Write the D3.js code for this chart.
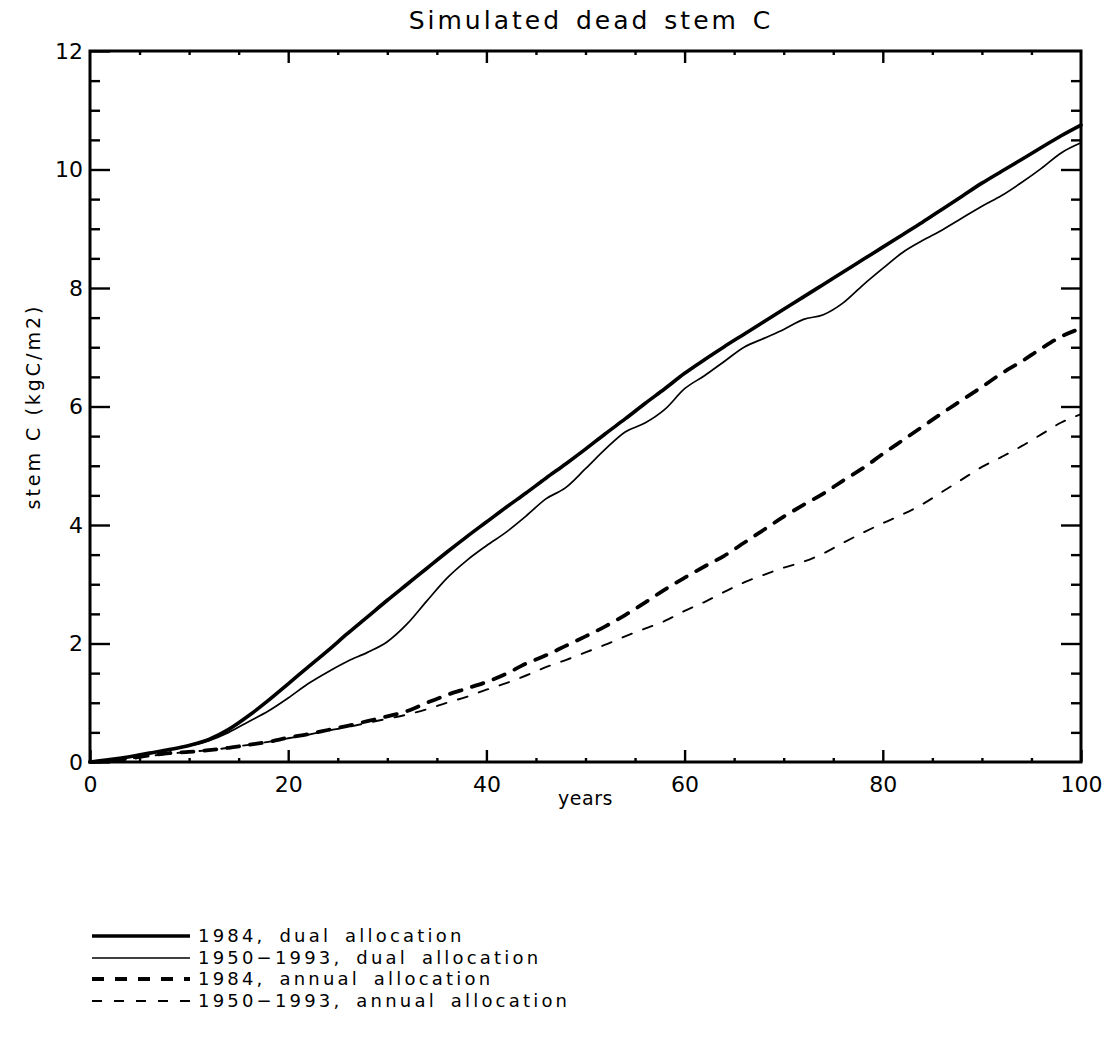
<!DOCTYPE html>
<html>
<head>
<meta charset="utf-8">
<script src="https://cdn.jsdelivr.net/npm/d3@7"></script>
<style>
  html, body { margin: 0; padding: 0; background: #fff; }
  svg { display: block; }
  text { font-family: "DejaVu Sans", sans-serif; fill: #000; }
</style>
</head>
<body>
<svg id="chart" width="1106" height="1056"></svg>
<script>
// Simulation years (x values shared by every series)
const years = [0, 2, 4, 6, 8, 10, 12, 14, 16, 18, 20, 22, 24, 26, 28, 30, 32, 34, 36, 38, 40,
  42, 44, 46, 48, 50, 52, 54, 56, 58, 60, 62, 64, 66, 68, 70, 72, 74, 76, 78, 80,
  82, 84, 86, 88, 90, 92, 94, 96, 98, 100];

// Dead stem carbon, kgC/m2
const dual1984 = [0, 0.04, 0.09, 0.15, 0.21, 0.28, 0.38, 0.55, 0.78, 1.04, 1.32, 1.60, 1.88, 2.17, 2.45, 2.73, 3.00, 3.27, 3.54, 3.80, 4.05,
  4.30, 4.54, 4.79, 5.03, 5.28, 5.54, 5.79, 6.05, 6.30, 6.56, 6.79, 7.01, 7.22, 7.43, 7.64, 7.85, 8.06, 8.27, 8.48, 8.69,
  8.90, 9.11, 9.33, 9.55, 9.77, 9.97, 10.17, 10.37, 10.57, 10.75];

const dual1950_1993 = [0, 0.04, 0.09, 0.15, 0.21, 0.27, 0.36, 0.50, 0.68, 0.86, 1.08, 1.32, 1.52, 1.70, 1.85, 2.03, 2.33, 2.72, 3.10, 3.40, 3.65,
  3.88, 4.15, 4.44, 4.63, 4.95, 5.28, 5.57, 5.72, 5.95, 6.30, 6.52, 6.76, 7.00, 7.15, 7.30, 7.47, 7.55, 7.75, 8.05, 8.33,
  8.60, 8.80, 8.98, 9.18, 9.38, 9.56, 9.78, 10.02, 10.28, 10.45];

const annual1984 = [0, 0.02, 0.06, 0.11, 0.15, 0.17, 0.20, 0.24, 0.29, 0.34, 0.41, 0.47, 0.54, 0.61, 0.69, 0.77, 0.86, 1.00, 1.13, 1.24, 1.35,
  1.49, 1.66, 1.80, 1.96, 2.12, 2.29, 2.48, 2.69, 2.91, 3.11, 3.30, 3.48, 3.70, 3.92, 4.14, 4.34, 4.53, 4.75, 4.96, 5.20,
  5.43, 5.66, 5.89, 6.11, 6.33, 6.56, 6.76, 6.98, 7.18, 7.32];

const annual1950_1993 = [0, 0.02, 0.06, 0.10, 0.14, 0.17, 0.20, 0.24, 0.29, 0.34, 0.40, 0.46, 0.53, 0.59, 0.66, 0.73, 0.80, 0.89, 1.00, 1.10, 1.22,
  1.33, 1.46, 1.60, 1.72, 1.85, 1.98, 2.12, 2.25, 2.38, 2.55, 2.70, 2.87, 3.03, 3.16, 3.28, 3.38, 3.52, 3.70, 3.87, 4.03,
  4.18, 4.35, 4.56, 4.77, 4.98, 5.15, 5.33, 5.53, 5.73, 5.87];

const seriesNames = ["1984, dual allocation", "1950\u22121993, dual allocation",
  "1984, annual allocation", "1950\u22121993, annual allocation"];

const xMajorTicks = [0, 20, 40, 60, 80, 100];
const xMinorTicks = [5, 10, 15, 25, 30, 35, 45, 50, 55, 65, 70, 75, 85, 90, 95];
const yMajorTicks = [0, 2, 4, 6, 8, 10, 12];
const yMinorTicks = [0.5, 1, 1.5, 2.5, 3, 3.5, 4.5, 5, 5.5, 6.5, 7, 7.5, 8.5, 9, 9.5, 10.5, 11, 11.5];

const titleText = "Simulated dead stem C";
const xLabel = "years";
const yLabel = "stem C (kgC/m2)";

// ---- layout ----
const svg = d3.select("#chart");
const plotLeft = 90, plotRight = 1081, plotTop = 51, plotBottom = 762;

const x = d3.scaleLinear().domain([0, 100]).range([plotLeft, plotRight]);
const y = d3.scaleLinear().domain([0, 12]).range([plotBottom, plotTop]);

const series = [
  { name: seriesNames[0], values: dual1984, width: 3.6, dash: null },
  { name: seriesNames[1], values: dual1950_1993, width: 1.7, dash: null },
  { name: seriesNames[2], values: annual1984, width: 3.8, dash: "12,11" },
  { name: seriesNames[3], values: annual1950_1993, width: 1.9, dash: "10,12" }
];

// ---- axes (inward ticks on all four sides) ----
function styleAxis(g) {
  g.select(".domain").remove();
  g.selectAll(".tick line").attr("stroke", "#000").attr("stroke-width", 2.4);
  g.selectAll(".tick text")
    .style("font-family", "'DejaVu Sans', sans-serif")
    .style("font-size", "22px")
    .attr("fill", "#000");
}

// bottom
svg.append("g").attr("transform", `translate(0,${plotBottom})`)
  .call(d3.axisBottom(x).tickValues(xMajorTicks).tickSize(-12).tickPadding(14).tickFormat(d3.format("d")))
  .call(styleAxis);
svg.append("g").attr("transform", `translate(0,${plotBottom})`)
  .call(d3.axisBottom(x).tickValues(xMinorTicks).tickSize(-4).tickFormat(""))
  .call(styleAxis);
// top
svg.append("g").attr("transform", `translate(0,${plotTop})`)
  .call(d3.axisTop(x).tickValues(xMajorTicks.slice(1, -1)).tickSize(-12).tickFormat(""))
  .call(styleAxis);
svg.append("g").attr("transform", `translate(0,${plotTop})`)
  .call(d3.axisTop(x).tickValues(xMinorTicks).tickSize(-4).tickFormat(""))
  .call(styleAxis);
// left
svg.append("g").attr("transform", `translate(${plotLeft},0)`)
  .call(d3.axisLeft(y).tickValues(yMajorTicks).tickSize(-20).tickPadding(7).tickFormat(d3.format("d")))
  .call(styleAxis);
svg.append("g").attr("transform", `translate(${plotLeft},0)`)
  .call(d3.axisLeft(y).tickValues(yMinorTicks).tickSize(-10).tickFormat(""))
  .call(styleAxis);
// right
svg.append("g").attr("transform", `translate(${plotRight},0)`)
  .call(d3.axisRight(y).tickValues(yMajorTicks.slice(1, -1)).tickSize(-20).tickFormat(""))
  .call(styleAxis);
svg.append("g").attr("transform", `translate(${plotRight},0)`)
  .call(d3.axisRight(y).tickValues(yMinorTicks).tickSize(-10).tickFormat(""))
  .call(styleAxis);

// frame
svg.append("rect")
  .attr("x", plotLeft).attr("y", plotTop)
  .attr("width", plotRight - plotLeft).attr("height", plotBottom - plotTop)
  .attr("fill", "none").attr("stroke", "#000").attr("stroke-width", 3);

// ---- series lines ----
const line = d3.line()
  .x((d, i) => x(years[i]))
  .y(d => y(d))
  .curve(d3.curveMonotoneX);

svg.append("g").selectAll("path")
  .data(series)
  .join("path")
  .attr("d", s => line(s.values))
  .attr("fill", "none")
  .attr("stroke", "#000")
  .attr("stroke-width", s => s.width)
  .attr("stroke-linecap", "round")
  .attr("stroke-linejoin", "round")
  .attr("stroke-dasharray", s => s.dash);

// ---- titles ----
svg.append("text")
  .attr("x", 591).attr("y", 29)
  .attr("text-anchor", "middle")
  .style("font-size", "25px")
  .style("letter-spacing", "3px")
  .style("word-spacing", "3px")
  .text(titleText);

svg.append("text")
  .attr("x", (plotLeft + plotRight) / 2).attr("y", 805)
  .attr("text-anchor", "middle")
  .style("font-size", "19px")
  .style("letter-spacing", "0.5px")
  .text(xLabel);

svg.append("text")
  .attr("transform", `translate(40,${(plotTop + plotBottom) / 2}) rotate(-90)`)
  .attr("text-anchor", "middle")
  .style("font-size", "19px")
  .style("letter-spacing", "3px")
  .text(yLabel);

// ---- legend ----
const legendRows = [936, 958, 979, 1001];
const legend = svg.append("g").selectAll("g")
  .data(series)
  .join("g")
  .attr("transform", (s, i) => `translate(0,${legendRows[i]})`);

legend.append("line")
  .attr("x1", 92).attr("x2", 190)
  .attr("y1", 0).attr("y2", 0)
  .attr("stroke", "#000")
  .attr("stroke-width", s => s.width)
  .attr("stroke-dasharray", s => s.dash);

legend.append("text")
  .attr("x", 198).attr("y", 6)
  .style("font-size", "18px")
  .style("letter-spacing", "3.2px")
  .style("word-spacing", "5px")
  .text(s => s.name);
</script>
</body>
</html>
